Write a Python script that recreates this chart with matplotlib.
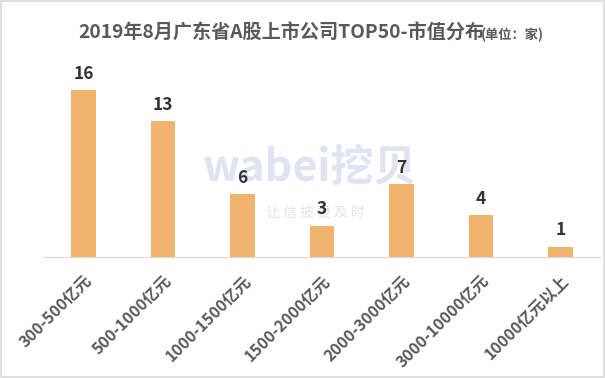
import matplotlib
matplotlib.use("Agg")
import matplotlib.pyplot as plt
from matplotlib.patches import Rectangle

plt.rcParams["font.family"] = ["Noto Sans CJK SC", "DejaVu Sans"]

categories = ["300-500亿元", "500-1000亿元", "1000-1500亿元", "1500-2000亿元",
              "2000-3000亿元", "3000-10000亿元", "10000亿元以上"]
counts = [16, 13, 6, 3, 7, 4, 1]

title = "2019年8月广东省A股上市公司TOP50-市值分布"
unit = "(单位：家)"

fig = plt.figure(figsize=(6.05, 3.78), dpi=100)
fig.patch.set_facecolor("white")
fig.add_artist(Rectangle((0.001, 0.002), 0.997, 0.995, transform=fig.transFigure,
                         fill=False, edgecolor="#d9d9d9", linewidth=1.2))

ax = fig.add_axes([44 / 605, 1 - 257 / 378, 556 / 605, 197 / 378])
x = list(range(len(categories)))
ax.bar(x, counts, width=0.31, color="#F0B46E", zorder=2)
for xi, v in zip(x, counts):
    ax.text(xi, v + 0.7, str(v), ha="center", va="bottom", fontsize=12.5,
            fontweight="bold", color="#333333", zorder=4)

ax.set_xlim(-0.5, len(categories) - 0.5)
ax.set_ylim(0, 18.9)
ax.set_yticks([])
ax.set_xticks(x)
ax.set_xticklabels(categories, rotation=45, ha="right", rotation_mode="anchor",
                   fontsize=11.5, fontweight="bold", color="#595959")
ax.tick_params(axis="x", length=0, pad=11)
for s in ["top", "right", "left"]:
    ax.spines[s].set_visible(False)
ax.spines["bottom"].set_color("#d9d9d9")
ax.set_facecolor("none")

# watermark, behind the bars
ax.text(310 / 605, 1 - 168 / 378, "wabei挖贝", transform=fig.transFigure,
        ha="center", va="center", fontsize=31, fontweight="bold",
        color="#e0e3f1", zorder=1)
ax.text(315 / 605, 1 - 213 / 378, "让 信 披 更 及 时", transform=fig.transFigure,
        ha="center", va="center", fontsize=10, color="#e0e3f1", zorder=1)

fig.text(78 / 605, 1 - 33 / 378, title, ha="left", va="center",
         fontsize=13.8, fontweight="bold", color="#595959")
fig.text(481 / 605, 1 - 35 / 378, unit, ha="left", va="center",
         fontsize=9.5, fontweight="bold", color="#595959")

fig.savefig("out.png", dpi=100)
